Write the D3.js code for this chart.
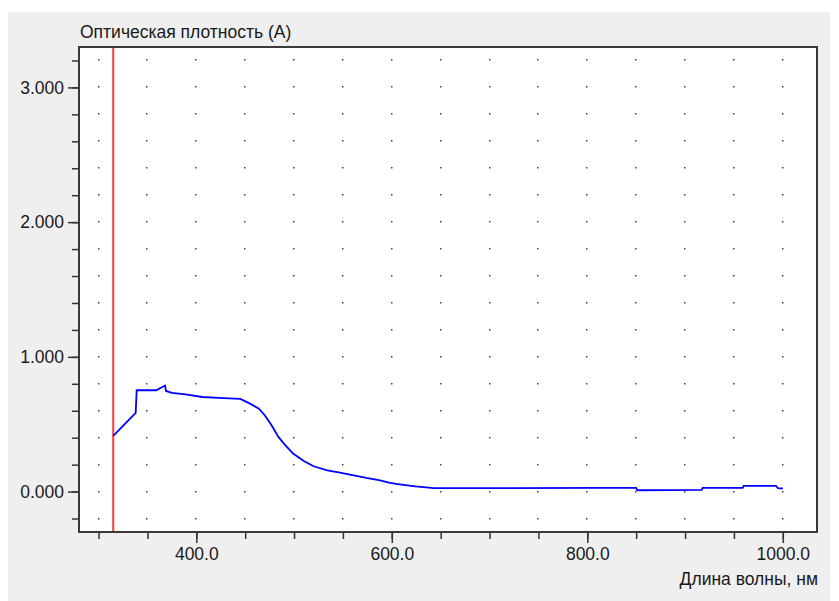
<!DOCTYPE html>
<html>
<head>
<meta charset="utf-8">
<script src="https://cdn.jsdelivr.net/npm/d3@7"></script>
<style>
  body { margin: 0; background: #ffffff; }
  svg { display: block; }
  .axis text { font-family: "Liberation Sans", Arial, sans-serif; font-size: 17.5px; fill: #1a1a1a; }
  .axis path { display: none; }
  .axis line { stroke: #333333; stroke-width: 1.5; }
</style>
</head>
<body>
<div id="chart"></div>
<script>
// datos del espectro ------------------------------------------
var wavelengths = [315, 338, 339, 359, 368, 369, 375, 389, 406, 428, 445, 455, 464, 470,
  477, 484, 491, 499, 510, 520, 534, 547, 561, 574, 588, 598, 608, 624, 643, 700,
  813, 850, 851, 917, 918, 959, 960, 993, 995, 1000];
var absorbance = [0.413, 0.584, 0.752, 0.752, 0.787, 0.747, 0.732, 0.722, 0.702, 0.693, 0.688, 0.653, 0.616, 0.567,
  0.492, 0.406, 0.344, 0.282, 0.227, 0.188, 0.158, 0.141, 0.121, 0.101, 0.084, 0.064, 0.054, 0.039, 0.025, 0.025,
  0.027, 0.027, 0.010, 0.012, 0.027, 0.027, 0.042, 0.042, 0.025, 0.023];

var markerWavelength = 315;

var xMajorTicks = [400, 600, 800, 1000];
var xMinorTicks = [300, 350, 400, 450, 500, 550, 600, 650, 700, 750, 800, 850, 900, 950, 1000];
var yMajorTicks = [0, 1, 2, 3];
var yMinorTicks = [-0.2, 0, 0.2, 0.4, 0.6, 0.8, 1, 1.2, 1.4, 1.6, 1.8, 2, 2.2, 2.4, 2.6, 2.8, 3, 3.2];

var yTitle = "Оптическая плотность (А)";
var xTitle = "Длина волны, нм";

// Dimensiones
var W = 839, H = 601;
var plot = { left: 79, top: 47, right: 817, bottom: 532 };

var svg = d3.select("#chart").append("svg").attr("width", W).attr("height", H);

// Fondo gris del panel
svg.append("rect").attr("x", 8).attr("y", 12).attr("width", 822).attr("height", H - 12).attr("fill", "#efefef");

// Escaladores
var x = d3.scaleLinear().domain([280, 1035]).range([plot.left, plot.right]);
var y = d3.scaleLinear().domain([-0.3, 3.3]).range([plot.bottom, plot.top]);

// Area del grafico
svg.append("rect")
  .attr("x", plot.left).attr("y", plot.top)
  .attr("width", plot.right - plot.left).attr("height", plot.bottom - plot.top)
  .attr("fill", "#ffffff");

// Puntos de la rejilla
var dots = [];
xMinorTicks.forEach(function (a) {
  yMinorTicks.forEach(function (b) { dots.push([a, b]); });
});
svg.append("g").selectAll("rect").data(dots).enter().append("rect")
  .attr("x", function (d) { return Math.round(x(d[0])) - 1; })
  .attr("y", function (d) { return Math.round(y(d[1])) - 1; })
  .attr("width", 1.5).attr("height", 1.5)
  .attr("fill", "#444444");

// Linea roja
svg.append("line")
  .attr("x1", x(markerWavelength)).attr("x2", x(markerWavelength))
  .attr("y1", plot.top).attr("y2", plot.bottom)
  .attr("stroke", "#ff3b3b").attr("stroke-width", 2);

// Curva
var points = wavelengths.map(function (w, i) { return [w, absorbance[i]]; });
svg.append("path")
  .datum(points)
  .attr("fill", "none")
  .attr("stroke", "#0000ff")
  .attr("stroke-width", 1.8)
  .attr("d", d3.line().x(function (d) { return x(d[0]); }).y(function (d) { return y(d[1]); }));

// Marco
svg.append("rect")
  .attr("x", plot.left).attr("y", plot.top)
  .attr("width", plot.right - plot.left).attr("height", plot.bottom - plot.top)
  .attr("fill", "none").attr("stroke", "#3a3a3a").attr("stroke-width", 2);

// Eje Y
svg.append("g").attr("class", "axis")
  .attr("transform", "translate(" + (plot.left - 1) + ",0)")
  .call(d3.axisLeft(y).tickValues(yMinorTicks).tickSize(6).tickFormat(""));
svg.append("g").attr("class", "axis")
  .attr("transform", "translate(" + (plot.left - 1) + ",0)")
  .call(d3.axisLeft(y).tickValues(yMajorTicks).tickSize(10).tickPadding(4).tickFormat(d3.format(".3f")));

// Eje X
svg.append("g").attr("class", "axis")
  .attr("transform", "translate(0," + (plot.bottom + 1) + ")")
  .call(d3.axisBottom(x).tickValues(xMinorTicks).tickSize(6).tickFormat(""));
svg.append("g").attr("class", "axis")
  .attr("transform", "translate(0," + (plot.bottom + 1) + ")")
  .call(d3.axisBottom(x).tickValues(xMajorTicks).tickSize(10).tickPadding(5).tickFormat(d3.format(".1f")));

// Titulos
svg.append("text")
  .attr("x", 80).attr("y", 38)
  .attr("font-family", "Liberation Sans, Arial, sans-serif").attr("font-size", "17.5px").attr("fill", "#1a1a1a")
  .text(yTitle);
svg.append("text")
  .attr("x", 818).attr("y", 585).attr("text-anchor", "end")
  .attr("font-family", "Liberation Sans, Arial, sans-serif").attr("font-size", "17.5px").attr("fill", "#1a1a1a")
  .text(xTitle);
</script>
</body>
</html>
